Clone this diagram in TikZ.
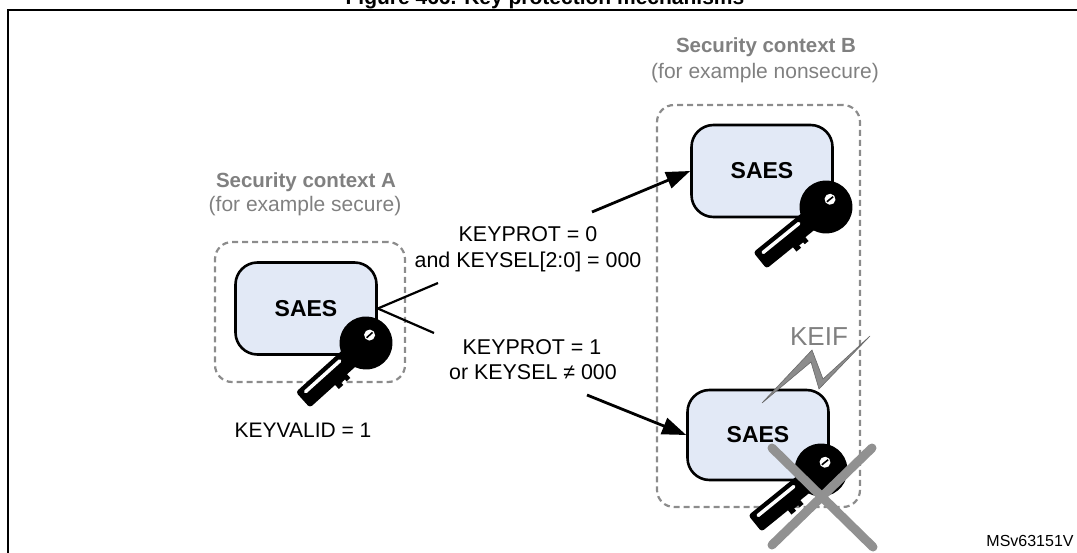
\documentclass[tikz,border=0pt]{standalone}
\usepackage{fontspec}
\setmainfont{Liberation Sans}
\usetikzlibrary{arrows.meta}
\definecolor{ctxgray}{RGB}{128,128,128}
\definecolor{dashgray}{RGB}{140,140,140}
\definecolor{saesfill}{RGB}{226,233,246}
\definecolor{xgray}{RGB}{145,145,145}
\definecolor{boltgray}{RGB}{140,140,140}
\definecolor{boltedge}{RGB}{105,105,105}
\newcommand{\fsz}[1]{\fontsize{#1}{#1}\selectfont}
\tikzset{
  txt/.style={inner sep=0pt, anchor=base, font=\fsz{21.4}},
  ctxtitle/.style={inner sep=0pt, anchor=base, font=\fsz{20.5}\bfseries, text=ctxgray},
  ctxsub/.style={inner sep=0pt, anchor=base, font=\fsz{21}, text=ctxgray},
  saes/.style={draw=black, line width=2.6pt, fill=saesfill, rounded corners=22pt,
    minimum width=141pt, minimum height=92pt, inner sep=0pt, font=\fsz{23}\bfseries},
  ctxbox/.style={draw=dashgray, line width=2.2pt, dash pattern=on 6pt off 4pt,
    rounded corners=17pt, inner sep=0pt},
  arr/.style={line width=2.8pt, -{Triangle[length=24pt,width=17pt]}},
  fork/.style={line width=2.2pt},
  crossline/.style={draw=xgray, line width=9pt, line cap=round},
  keyicon/.pic={
    \fill[black] (0,0) circle (26.5pt);
    \fill[black, rounded corners=3pt] (14,-10.5) rectangle (85,10.5);
    \fill[black] (35,-10) -- (35,-15.5) -- (40,-15.5) -- (40,-13) -- (45,-13)
      -- (45,-16) -- (51,-16) -- (51,-10) -- cycle;
    \fill[white, rounded corners=1.5pt] (30,2.5) rectangle (79,6);
    \fill[white] (-8,3.5) circle (5.5pt);
    \draw[black, line width=1.6pt] (-12,3.5) -- (-4,3.5);
  }
}
\begin{document}
\begin{tikzpicture}[x=1pt,y=-1pt]
\useasboundingbox (0,0) rectangle (1077,553);
\begin{scope}
  \clip (0,0) rectangle (1077,553);
  \node[inner sep=0pt, anchor=base, font=\fsz{21}\bfseries] (title) at (545,4.5)
    {Figure 466. Key protection mechanisms};
  \draw[line width=2pt] (8,560) -- (8,10) -- (1080,10);
\end{scope}

% context boxes
\node[ctxbox, minimum width=190pt, minimum height=140pt] (ctxA) at (310,312) {};
\node[ctxbox, minimum width=203pt, minimum height=402pt] (ctxB) at (758.5,306) {};

\node[ctxtitle] (ctxAt) at (306,188) {Security context A};
\node[ctxsub] (ctxAs) at (305,212) {(for example secure)};
\node[ctxtitle] (ctxBt) at (766,53) {Security context B};
\node[ctxsub] (ctxBs) at (765,79) {(for example nonsecure)};

% SAES blocks
\node[saes] (saesA) at (306,308.5) {SAES};
\node[saes] (saesB) at (762,171) {SAES};
\node[saes, minimum height=90pt] (saesC) at (758,435) {SAES};

% keys
\pic[rotate=222] at (366,343) {keyicon};
\pic[rotate=219] at (826,207) {keyicon};
\pic[rotate=219] at (821,470) {keyicon};

% cross over the key
\draw[crossline] (772,448) -- (873,547);
\draw[crossline] (872,448) -- (772,545);

% lightning KEIF
\fill[boltgray, draw=boltedge, line width=0.6pt] (762,403) -- (812,350) -- (823,379)
  -- (870,336) -- (819,389) -- (811,362) -- cycle;
\node[inner sep=0pt, anchor=base, font=\fsz{26}, text=ctxgray] (keif) at (819,346) {KEIF};

% fork from SAES A
\coordinate (f1) at (438,283);
\coordinate (f2) at (434,333);
\draw[fork] (saesA.east) -- (f1);
\draw[fork] (saesA.east) -- (f2);

% arrows
\coordinate (a1) at (592,212);
\coordinate (a2) at (587,395);
\draw[arr] (a1) -- (saesB.west);
\draw[arr] (a2) -- (saesC.west);

% labels
\node[txt] (l1) at (528,242) {KEYPROT = 0};
\node[txt] (l2) at (528,268) {and KEYSEL[2:0] = 000};
\node[txt] (l3) at (532,355) {KEYPROT = 1};
\node[txt] (l4) at (533,380) {or KEYSEL ≠ 000};
\node[txt, font=\fsz{21}] (kv) at (303,437) {KEYVALID = 1};
\node[inner sep=0pt, anchor=base, font=\fsz{16}] (ref) at (1030,546) {MSv63151V};
\end{tikzpicture}
\end{document}
